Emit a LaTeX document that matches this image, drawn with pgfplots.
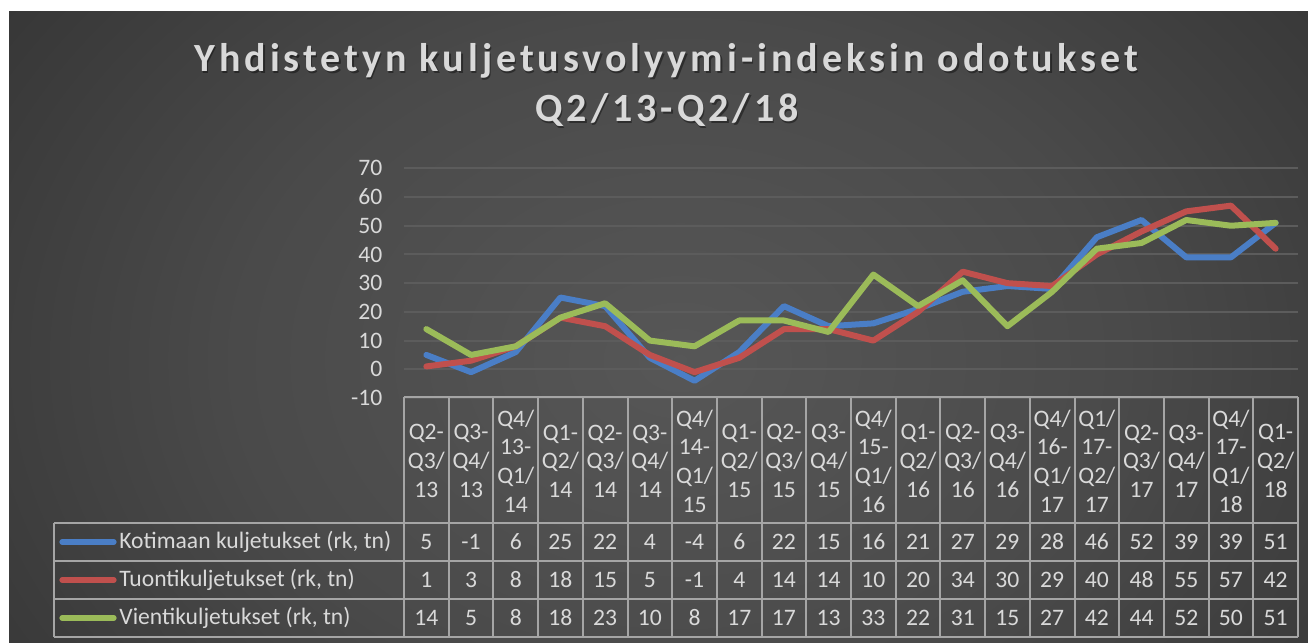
\documentclass[border=0pt]{standalone}
\usepackage{pgfplots}
\pgfplotsset{compat=1.18}
\usepackage{pgfplotstable}
\usepackage{fontspec}
\setmainfont{Carlito}
\newfontfamily\titlefont[LetterSpace=10]{Carlito}
\definecolor{txt}{RGB}{217,217,217}
\definecolor{kblue}{RGB}{74,126,198}
\definecolor{tred}{RGB}{192,80,77}
\definecolor{vgreen}{RGB}{155,187,89}
\definecolor{gridc}{RGB}{92,92,92}
\definecolor{tablec}{RGB}{165,165,165}
\pgfdeclareradialshading{bgshade}{\pgfpoint{0bp}{0bp}}{rgb(0bp)=(0.34,0.34,0.34);rgb(15bp)=(0.29,0.29,0.29);rgb(32bp)=(0.19,0.19,0.19);rgb(50bp)=(0.14,0.14,0.14)}

\pgfplotstableread{
x k t v
0 5 1 14
1 -1 3 5
2 6 8 8
3 25 18 18
4 22 15 23
5 4 5 10
6 -4 -1 8
7 6 4 17
8 22 14 17
9 15 14 13
10 16 10 33
11 21 20 22
12 27 34 31
13 29 30 15
14 28 29 27
15 46 40 42
16 52 48 44
17 39 55 52
18 39 57 50
19 51 42 51
}\datatable

\begin{document}
\begin{tikzpicture}
\begin{scope}[x=0.5pt,y=-0.5pt]
\fill[white] (0,0) rectangle (1308,643);
\begin{scope}
\clip (9,11) rectangle (1308,643);
\shade[shading=bgshade] (-60,-200) rectangle (1420,920);
\end{scope}
% title
\node[anchor=base, text=black, opacity=0.4, font=\titlefont\bfseries\fontsize{20}{24}\selectfont] at (667.5,73) {Yhdistetyn kuljetusvolyymi-indeksin odotukset};
\node[anchor=base, text=txt, font=\titlefont\bfseries\fontsize{20}{24}\selectfont] at (666,71.7) {Yhdistetyn kuljetusvolyymi-indeksin odotukset};
\node[anchor=base, text=black, opacity=0.4, font=\titlefont\bfseries\fontsize{20}{24}\selectfont] at (668.5,123) {Q2/13-Q2/18};
\node[anchor=base, text=txt, font=\titlefont\bfseries\fontsize{20}{24}\selectfont] at (667,121.7) {Q2/13-Q2/18};
\end{scope}

\begin{axis}[at={(202pt,-199pt)}, anchor=south west, scale only axis,
  width=447pt, height=114.85pt,
  xmin=-0.5, xmax=19.5, ymin=-10, ymax=70,
  ytick={-10,0,...,70}, xtick=\empty,
  axis line style={draw=none}, major tick length=0pt,
  ymajorgrids, grid style={gridc, line width=1pt},
  yticklabel style={text=txt, font=\fontsize{11.8}{14}\selectfont, xshift=-7.3pt},
  /pgf/number format/assume math mode=true,
  clip=false]
\addplot[kblue, line width=3pt, line join=round, line cap=round] table[x=x,y=k]{\datatable};
\addplot[tred, line width=3pt, line join=round, line cap=round] table[x=x,y=t]{\datatable};
\addplot[vgreen, line width=3pt, line join=round, line cap=round] table[x=x,y=v]{\datatable};
\end{axis}

\begin{scope}[x=0.5pt,y=-0.5pt]
% table grid
\draw[tablec, line width=1pt] (404,397) -- (1298,397);
\foreach \yy in {523,561,599,637} \draw[tablec, line width=1pt] (54,\yy) -- (1298,\yy);
\draw[tablec, line width=1pt] (54,523) -- (54,637);
\foreach \i in {0,...,20} \draw[tablec, line width=1pt] ({404+44.7*\i},397) -- ({404+44.7*\i},637);
% headers
\foreach \lab [count=\i from 0] in {{Q2-\\Q3/\\13},{Q3-\\Q4/\\13},{Q4/\\13-\\Q1/\\14},{Q1-\\Q2/\\14},{Q2-\\Q3/\\14},{Q3-\\Q4/\\14},{Q4/\\14-\\Q1/\\15},{Q1-\\Q2/\\15},{Q2-\\Q3/\\15},{Q3-\\Q4/\\15},{Q4/\\15-\\Q1/\\16},{Q1-\\Q2/\\16},{Q2-\\Q3/\\16},{Q3-\\Q4/\\16},{Q4/\\16-\\Q1/\\17},{Q1/\\17-\\Q2/\\17},{Q2-\\Q3/\\17},{Q3-\\Q4/\\17},{Q4/\\17-\\Q1/\\18},{Q1-\\Q2/\\18}}
  \node[text=txt, align=center, inner sep=0pt, font=\fontsize{11.8}{14.3}\selectfont] at ({404+44.7*(\i+0.5)},461) {\lab};
% values
\foreach \v [count=\i from 0] in {5,-1,6,25,22,4,-4,6,22,15,16,21,27,29,28,46,52,39,39,51}
  \node[text=txt, font=\fontsize{11.8}{14}\selectfont] at ({404+44.7*(\i+0.5)},542) {\v};
\foreach \v [count=\i from 0] in {1,3,8,18,15,5,-1,4,14,14,10,20,34,30,29,40,48,55,57,42}
  \node[text=txt, font=\fontsize{11.8}{14}\selectfont] at ({404+44.7*(\i+0.5)},580) {\v};
\foreach \v [count=\i from 0] in {14,5,8,18,23,10,8,17,17,13,33,22,31,15,27,42,44,52,50,51}
  \node[text=txt, font=\fontsize{11.8}{14}\selectfont] at ({404+44.7*(\i+0.5)},618) {\v};
% legend keys
\draw[kblue, line width=2.6pt, line cap=round] (62,542) -- (114,542);
\draw[tred, line width=2.6pt, line cap=round] (62,580) -- (114,580);
\draw[vgreen, line width=2.6pt, line cap=round] (62,618) -- (114,618);
\node[anchor=west, inner sep=0pt, text=txt, font=\fontsize{11.8}{14}\selectfont] at (119,542) {Kotimaan kuljetukset (rk, tn)};
\node[anchor=west, inner sep=0pt, text=txt, font=\fontsize{11.8}{14}\selectfont] at (119,580) {Tuontikuljetukset (rk, tn)};
\node[anchor=west, inner sep=0pt, text=txt, font=\fontsize{11.8}{14}\selectfont] at (119,618) {Vientikuljetukset (rk, tn)};
\end{scope}
\end{tikzpicture}
\end{document}
